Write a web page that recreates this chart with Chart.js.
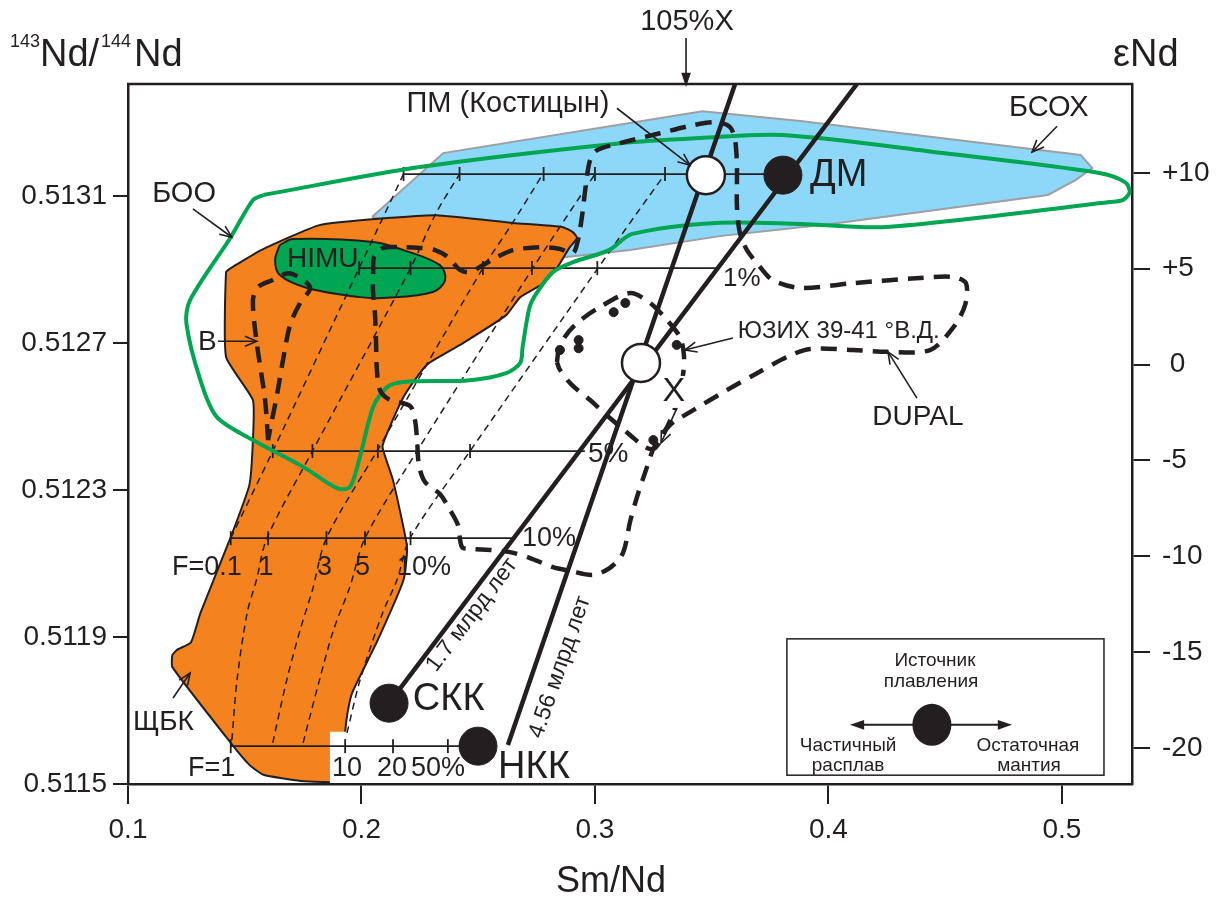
<!DOCTYPE html>
<html>
<head>
<meta charset="utf-8">
<title>Sm/Nd - 143Nd/144Nd</title>
<script src="https://cdn.jsdelivr.net/npm/chart.js@4.4.1/dist/chart.umd.min.js"></script>
<style>
  html, body { margin: 0; padding: 0; background: #fff; }
  #wrap { width: 1218px; height: 908px; }
</style>
</head>
<body>
<div id="wrap"><canvas id="myChart"></canvas></div>
<script>
// axes
const xTicks = [0.1, 0.2, 0.3, 0.4, 0.5];
const yTicks = [0.5115, 0.5119, 0.5123, 0.5127, 0.5131];
const epsTicks = [10, 5, 0, -5, -10, -15, -20];
const epsTickLabels = ['+10', '+5', ' 0', '-5', '-10', '-15', '-20'];

// fields, points are [Sm/Nd, 143Nd/144Nd]
const morbField = [ // БСОХ
  [0.2045,0.513043],[0.235,0.513217],[0.346,0.513331],[0.388,0.513304],[0.508,0.513212],[0.513,0.513176],
  [0.506,0.513144],[0.494,0.513103],[0.401,0.513024],[0.3535,0.512991],[0.315,0.512953],[0.283,0.512931],
  [0.251,0.512980],[0.2045,0.513043]
];
const shieldField = [ // ЩБК
  [0.144,0.512904],[0.157,0.512953],[0.182,0.513021],[0.211,0.513040],[0.232,0.513048],[0.265,0.513027],
  [0.286,0.513016],[0.2905,0.513002],[0.2923,0.512986],[0.289,0.512959],[0.284,0.512907],[0.278,0.512863],
  [0.268,0.512825],[0.262,0.512776],[0.2435,0.512700],[0.229,0.512646],[0.225,0.512618],[0.218,0.512553],
  [0.211,0.512455],[0.209,0.512417],[0.2135,0.512327],[0.2195,0.512145],[0.218,0.512055],[0.207,0.511892],
  [0.196,0.511748],[0.194,0.511693],[0.193,0.511639],[0.192,0.511505],[0.1865,0.511505],[0.174,0.511508],
  [0.158,0.511525],[0.152,0.511552],[0.144,0.511612],[0.119,0.511818],[0.119,0.511851],[0.121,0.511865],
  [0.127,0.511886],[0.131,0.511965],[0.144,0.512172],[0.152,0.512314],[0.1535,0.512436],[0.1535,0.512545],
  [0.142,0.512662],[0.142,0.512893],[0.144,0.512904]
];
const labelMask = [[0.1865,0.511642],[0.21,0.511642],[0.21,0.511503],[0.1865,0.511503],[0.1865,0.511642]];
const himuField = [
  [0.165,0.512967],[0.1707,0.512983],[0.205,0.512975],[0.218,0.512953],[0.2336,0.512912],[0.2358,0.512871],
  [0.2306,0.512839],[0.211,0.512823],[0.1994,0.512825],[0.1767,0.512850],[0.165,0.512885],[0.163,0.512926],
  [0.165,0.512967]
];
const oibField = [ // БОО
  [0.158,0.513103],[0.225,0.513179],[0.311,0.513244],[0.345,0.513258],[0.3805,0.513266],[0.449,0.513217],
  [0.516,0.513163],[0.527,0.513138],[0.529,0.513111],[0.526,0.513089],[0.5205,0.513084],[0.425,0.513016],
  [0.388,0.513024],[0.352,0.513027],[0.316,0.512997],[0.306,0.512953],[0.2906,0.512920],[0.282,0.512893],
  [0.275,0.512836],[0.272,0.512798],[0.269,0.512689],[0.268,0.512646],[0.262,0.512618],[0.2465,0.512599],
  [0.218,0.512594],[0.211,0.512580],[0.205,0.512526],[0.199,0.512382],[0.195,0.512308],[0.1895,0.512305],
  [0.175,0.512363],[0.1535,0.512436],[0.138,0.512499],[0.131,0.512599],[0.125,0.512754],[0.1266,0.512817],
  [0.144,0.512988],[0.1535,0.513089],[0.158,0.513103]
];

// melting curves F = 0.1, 1, 3, 5, 10 %
const meltCurves = [
  [[0.144,0.512169],[0.162,0.512406],[0.199,0.512904],[0.218,0.513160]],
  [[0.1445,0.511620],[0.1467,0.511783],[0.151,0.511965],[0.155,0.512055],[0.1595,0.512169],[0.179,0.512406],[0.221,0.512904],[0.232,0.513054],[0.242,0.513160]],
  [[0.162,0.511612],[0.168,0.511783],[0.1737,0.511919],[0.179,0.512028],[0.185,0.512169],[0.2066,0.512406],[0.252,0.512904],[0.2636,0.513016],[0.2777,0.513160]],
  [[0.175,0.511612],[0.182,0.511783],[0.188,0.511919],[0.195,0.512036],[0.2015,0.512169],[0.2238,0.512406],[0.2734,0.512904],[0.300,0.513160]],
  [[0.1938,0.511639],[0.1994,0.511783],[0.209,0.511965],[0.2152,0.512055],[0.2208,0.512169],[0.2465,0.512406],[0.3013,0.512904],[0.318,0.513054],[0.330,0.513160]]
];
// horizontal F lines and their ticks
const fLevels = [0.513160, 0.512904, 0.512406, 0.512169, 0.511603];
const fStart = [0.218, 0.1985, 0.162, 0.144, 0.144];
const fEnd = [0.381, 0.353, 0.2957, 0.265, 0.250];
const fTicks = [
  [0.218,0.242,0.278,0.300,0.330],
  [0.199,0.221,0.252,0.273,0.301],
  [0.162,0.179,0.207,0.224,0.2465],
  [0.144,0.160,0.185,0.2015,0.221],
  [0.144,0.193,0.2135,0.237]
];

// thick dashed outlines
const mixLoop = [
  [0.205,0.512893],[0.2054,0.512934],[0.2092,0.512959],[0.2165,0.512961],[0.225,0.512959],[0.2315,0.512953],
  [0.237,0.512934],[0.2422,0.512899],[0.2465,0.512893],[0.2507,0.512907],[0.258,0.512934],[0.2649,0.512953],
  [0.2764,0.512961],[0.285,0.512956],[0.2906,0.512945],[0.2927,0.512980],[0.2944,0.513043],[0.2961,0.513130],
  [0.2979,0.513198],[0.3009,0.513225],[0.3107,0.513244],[0.3278,0.513271],[0.342,0.513293],[0.3522,0.513301],
  [0.3578,0.513288],[0.36,0.513252],[0.3608,0.513179],[0.3608,0.513070],[0.3621,0.512999],[0.3651,0.512953],
  [0.3707,0.512907],[0.3762,0.512871],[0.3878,0.512850],[0.4105,0.512863],[0.4392,0.512877],[0.4533,0.512880],
  [0.4589,0.512863],[0.4585,0.512803],[0.4533,0.512741],[0.4435,0.512681],[0.425,0.512676],[0.4105,0.512681],
  [0.3921,0.512684],[0.3822,0.512662],[0.3694,0.512618],[0.3565,0.512572],[0.3407,0.512512],[0.3321,0.512477],
  [0.3257,0.512422],[0.3223,0.512363],[0.318,0.512281],[0.315,0.512213],[0.312,0.512129],[0.3064,0.512088],
  [0.2991,0.512069],[0.2893,0.512080],[0.282,0.512090],[0.2722,0.512115],[0.2636,0.512131],[0.255,0.512137],
  [0.2465,0.512140],[0.243,0.512145],[0.2413,0.512205],[0.2379,0.512246],[0.2336,0.512289],[0.2272,0.512322],
  [0.2246,0.512368],[0.2238,0.512436],[0.2229,0.512491],[0.2208,0.512529],[0.2122,0.512545],[0.2079,0.512572],
  [0.2066,0.512627],[0.2062,0.512708],[0.2058,0.512776],[0.2049,0.512844],[0.205,0.512893]
];
const bLoop = [ // В
  [0.160,0.512436],[0.1587,0.512545],[0.155,0.512708],[0.1535,0.512817],[0.1557,0.512852],[0.1617,0.512871],
  [0.1685,0.512890],[0.1737,0.512877],[0.178,0.512850],[0.1737,0.512809],[0.1694,0.512749],[0.1664,0.512654],
  [0.1638,0.512559],[0.1608,0.512463],[0.160,0.512436]
];
const swirLoop = [ // ЮЗИХ
  [0.2837,0.512648],[0.285,0.512695],[0.2914,0.512749],[0.3021,0.512798],[0.315,0.512836],[0.3236,0.512809],
  [0.3308,0.512763],[0.3364,0.512716],[0.3381,0.512667],[0.3377,0.512613],[0.3355,0.512545],[0.3313,0.512477],
  [0.3257,0.512414],[0.3214,0.512417],[0.315,0.512450],[0.3064,0.512496],[0.2979,0.512545],[0.2901,0.512586],
  [0.285,0.512627],[0.2837,0.512648]
];
const swirDots = [[0.308,0.512784],[0.313,0.512809],[0.285,0.512681],[0.293,0.512708],[0.293,0.512686],[0.335,0.512695],[0.325,0.512436]];

// evolution lines and sources
const sccLine = [[0.2118,0.511720],[0.4122,0.513405]];
const nccLine = [[0.2627,0.511606],[0.360,0.513405]];
const openSources = [[0.3475,0.513157],[0.3197,0.512646]];                     // ПМ, X
const solidSources = [[0.3805,0.513157],[0.2118,0.511720],[0.2499,0.511603]];  // ДМ, СКК, НКК

const ink = '#231f20';
const fontFam = '"Liberation Sans", Arial, Helvetica, sans-serif';
Chart.defaults.font.family = fontFam;
Chart.defaults.color = ink;

function pts(arr) { return arr.map(p => ({x: p[0], y: p[1]})); }

const datasets = [];
datasets.push({data: pts(morbField), fill: 'shape', backgroundColor: '#8dd8f8', borderColor: '#9d9fa2', borderWidth: 2, pointRadius: 0, order: 100});
datasets.push({data: pts(shieldField), fill: 'shape', backgroundColor: '#f4831f', borderColor: ink, borderWidth: 2, pointRadius: 0, order: 90, tension: 0.15});
datasets.push({data: pts(labelMask), fill: 'shape', backgroundColor: '#ffffff', borderWidth: 0, pointRadius: 0, order: 88});
datasets.push({data: pts(himuField), fill: 'shape', backgroundColor: '#00a651', borderColor: ink, borderWidth: 2, pointRadius: 0, order: 85, tension: 0.35});
meltCurves.forEach(c => {
  datasets.push({data: pts(c), borderColor: ink, borderWidth: 1.5, borderDash: [7, 5], pointRadius: 0, order: 75, tension: 0.3});
});
const tickPts = [];
fLevels.forEach((lv, i) => {
  datasets.push({data: pts([[fStart[i], lv], [fEnd[i], lv]]), borderColor: ink, borderWidth: 1.8, pointRadius: 0, order: 72});
  fTicks[i].forEach(t => tickPts.push({x: t, y: lv}));
});
datasets.push({data: tickPts, showLine: false, pointStyle: 'line', pointRotation: 90, pointRadius: 7,
  pointBorderColor: ink, pointBorderWidth: 1.8, order: 71});
datasets.push({data: pts(oibField), borderColor: '#00a651', borderWidth: 4, pointRadius: 0, order: 60, tension: 0.3});
[mixLoop, bLoop, swirLoop].forEach(l => {
  datasets.push({data: pts(l), borderColor: ink, borderWidth: 4.5, borderDash: [16, 10], pointRadius: 0, order: 50, tension: 0.3});
});
[sccLine, nccLine].forEach(l => {
  datasets.push({data: pts(l), borderColor: ink, borderWidth: 4.5, pointRadius: 0, order: 40});
});
datasets.push({data: pts(swirDots), showLine: false, pointRadius: 4.5, pointBackgroundColor: ink, pointBorderColor: ink, order: 30});
datasets.push({data: pts(openSources), showLine: false, pointRadius: 19, pointBackgroundColor: '#ffffff', pointBorderColor: ink, pointBorderWidth: 2.5, order: 20});
datasets.push({data: pts(solidSources), showLine: false, pointRadius: 19, pointBackgroundColor: ink, pointBorderColor: ink, pointBorderWidth: 1, order: 20});

// labels on the plot
const notes = [
  ['105%X', 0.3394, 0.513574, 29, 'center'],
  ['ПМ (Костицын)', 0.2627, 0.513350, 29, 'center'],
  ['БСОХ', 0.4944, 0.513339, 29, 'center'],
  ['ДМ', 0.3921, 0.513155, 38, 'left'],
  ['БОО', 0.124, 0.513105, 29, 'center'],
  ['HIMU', 0.1681, 0.512929, 28, 'left'],
  ['В', 0.13, 0.512703, 28, 'left'],
  ['1%', 0.3548, 0.512874, 26, 'left'],
  ['ЮЗИХ 39-41 °В.Д.', 0.3612, 0.512733, 24, 'left'],
  ['DUPAL', 0.4383, 0.512499, 28, 'center'],
  ['5%', 0.297, 0.512398, 28, 'left'],
  ['10%', 0.2687, 0.512169, 27, 'left'],
  ['F=0.1', 0.1188, 0.512090, 27, 'left'],
  ['1', 0.1591, 0.512090, 27, 'center'],
  ['3', 0.1842, 0.512090, 27, 'center'],
  ['5', 0.2004, 0.512090, 27, 'center'],
  ['10%', 0.2152, 0.512090, 27, 'left'],
  ['СКК', 0.222, 0.511729, 38, 'left'],
  ['НКК', 0.2585, 0.511546, 38, 'left'],
  ['ЩБК', 0.1021, 0.511669, 28, 'left'],
  ['F=1', 0.1257, 0.511541, 27, 'left'],
  ['10', 0.1874, 0.511541, 27, 'left'],
  ['20', 0.2066, 0.511541, 27, 'left'],
  ['50%', 0.2212, 0.511541, 27, 'left'],
  ['Источник', 0.4456, 0.511835, 19, 'center'],
  ['плавления', 0.4439, 0.511778, 19, 'center'],
  ['Частичный', 0.4084, 0.511603, 19, 'center'],
  ['расплав', 0.4084, 0.511549, 19, 'center'],
  ['Остаточная', 0.4854, 0.511603, 19, 'center'],
  ['мантия', 0.4859, 0.511549, 19, 'center']
];
const arrows = [
  [0.3390, 0.513530, 0.3390, 0.513397, true],
  [0.3094, 0.513339, 0.3407, 0.513184],
  [0.4979, 0.513290, 0.4872, 0.513220],
  [0.1278, 0.513065, 0.1445, 0.512988],
  [0.1385, 0.512705, 0.1552, 0.512705],
  [0.3591, 0.512714, 0.3385, 0.512681],
  [0.3351, 0.512523, 0.3283, 0.512428],
  [0.4379, 0.512550, 0.4255, 0.512676],
  [0.1193, 0.511734, 0.1266, 0.511802]
];

function drawText(ctx, t, px, py, size, align, rot) {
  ctx.save();
  ctx.translate(px, py);
  if (rot) ctx.rotate(rot);
  ctx.font = size + 'px ' + fontFam;
  ctx.textAlign = align || 'left';
  ctx.textBaseline = 'middle';
  ctx.fillStyle = ink;
  ctx.fillText(t, 0, 0);
  ctx.restore();
}
function drawArrow(ctx, x0, y0, x1, y1, filled) {
  const ang = Math.atan2(y1 - y0, x1 - x0);
  const L = filled ? 15 : 13, W = filled ? 0.33 : 0.4;
  ctx.beginPath(); ctx.moveTo(x0, y0); ctx.lineTo(x1 - (filled ? L * 0.8 * Math.cos(ang) : 0), y1 - (filled ? L * 0.8 * Math.sin(ang) : 0)); ctx.stroke();
  ctx.beginPath();
  ctx.moveTo(x1 - L * Math.cos(ang - W), y1 - L * Math.sin(ang - W));
  ctx.lineTo(x1, y1);
  ctx.lineTo(x1 - L * Math.cos(ang + W), y1 - L * Math.sin(ang + W));
  if (filled) { ctx.closePath(); ctx.fill(); } else ctx.stroke();
}

const notesPlugin = {
  id: 'notes',
  afterDraw(chart) {
    const {ctx, chartArea: a, scales: {x, y}} = chart;
    const X = v => x.getPixelForValue(v), Y = v => y.getPixelForValue(v);
    ctx.save();
    ctx.strokeStyle = ink; ctx.fillStyle = ink;
    // top frame
    ctx.lineWidth = 2.5;
    ctx.beginPath(); ctx.moveTo(a.left - 1, a.top); ctx.lineTo(a.right + 1, a.top); ctx.stroke();

    // white patch under the X label
    const xl = [X(0.3338), Y(0.512567)];
    ctx.fillStyle = '#fff';
    ctx.fillRect(xl[0] - 13, xl[1] - 16, 26, 32);
    drawText(ctx, 'X', xl[0], xl[1], 34, 'center');

    notes.forEach(n => drawText(ctx, n[0], X(n[1]), Y(n[2]), n[3], n[4]));

    // age labels along the lines
    const ang1 = Math.atan2(Y(sccLine[1][1]) - Y(sccLine[0][1]), X(sccLine[1][0]) - X(sccLine[0][0]));
    const ang2 = Math.atan2(Y(nccLine[1][1]) - Y(nccLine[0][1]), X(nccLine[1][0]) - X(nccLine[0][0]));
    drawText(ctx, '1.7 млрд лет', X(0.2473), Y(0.511960), 23, 'center', ang1);
    drawText(ctx, '4.56 млрд лет', X(0.285), Y(0.511818), 23, 'center', ang2);

    ctx.fillStyle = ink;
    ctx.lineWidth = 1.6;
    arrows.forEach(r => drawArrow(ctx, X(r[0]), Y(r[1]), X(r[2]), Y(r[3]), r[4]));

    // key box
    ctx.lineWidth = 1.5;
    ctx.strokeRect(X(0.3822), Y(0.511895), X(0.518) - X(0.3822), Y(0.511524) - Y(0.511895));
    ctx.lineWidth = 2;
    const cy = Y(0.511661), cx = X(0.4443);
    drawArrow(ctx, cx, cy, X(0.4092), cy, true);
    drawArrow(ctx, cx, cy, X(0.4786), cy, true);
    ctx.beginPath(); ctx.ellipse(cx, cy, 19.5, 21, 0, 0, Math.PI * 2); ctx.fill();

    // axis titles
    drawText(ctx, '143', 10, 42, 18, 'left');
    drawText(ctx, 'Nd/', 40, 56, 38, 'left');
    drawText(ctx, '144', 101, 42, 18, 'left');
    drawText(ctx, 'Nd', 134, 56, 38, 'left');
    drawText(ctx, 'εNd', 1113, 56, 38, 'left');
    drawText(ctx, 'Sm/Nd', 611, 882, 36, 'center');
    ctx.restore();
  }
};

const ctxEl = document.getElementById('myChart');
new Chart(ctxEl, {
  type: 'line',
  data: { datasets: datasets },
  options: {
    responsive: true,
    maintainAspectRatio: false,
    animation: false,
    events: [],
    layout: { padding: { top: 84, left: 0, right: 0, bottom: 0 } },
    plugins: { legend: { display: false }, tooltip: { enabled: false } },
    scales: {
      x: {
        type: 'linear', position: 'bottom', min: 0.1, max: 0.53,
        afterBuildTicks: s => { s.ticks = xTicks.map(v => ({value: v})); },
        afterFit: s => { s.height = 124; },
        ticks: { callback: v => v.toFixed(1), font: {size: 28}, color: ink, padding: 9, maxRotation: 0, autoSkip: false },
        grid: { drawOnChartArea: false, drawTicks: true, tickLength: 20, color: ink, lineWidth: 2 },
        border: { display: true, color: ink, width: 2.5 }
      },
      y: {
        type: 'linear', position: 'left', min: 0.5115, max: 0.513405,
        afterBuildTicks: s => { s.ticks = yTicks.map(v => ({value: v})); },
        afterFit: s => { s.width = 128; },
        ticks: { callback: v => v.toFixed(4), font: {size: 28}, color: ink, padding: 6, autoSkip: false },
        grid: { drawOnChartArea: false, drawTicks: true, tickLength: 15, color: ink, lineWidth: 2 },
        border: { display: true, color: ink, width: 2.5 }
      },
      y2: {
        type: 'linear', position: 'right', min: -21.88, max: 14.64,
        afterBuildTicks: s => { s.ticks = epsTicks.map(v => ({value: v})); },
        afterFit: s => { s.width = 86; },
        ticks: { callback: v => epsTickLabels[epsTicks.indexOf(v)], font: {size: 28}, color: ink, padding: 12, autoSkip: false },
        grid: { drawOnChartArea: false, drawTicks: true, tickLength: 18, color: ink, lineWidth: 2 },
        border: { display: true, color: ink, width: 2.5 }
      }
    }
  },
  plugins: [notesPlugin]
});
</script>
</body>
</html>
